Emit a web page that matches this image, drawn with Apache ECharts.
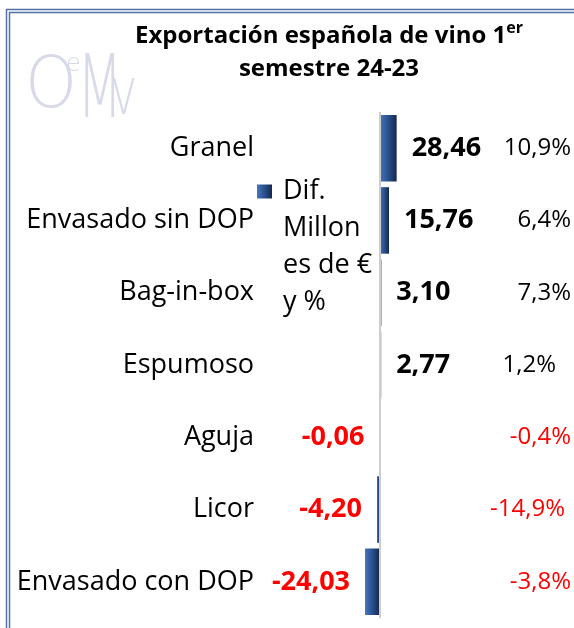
<!DOCTYPE html>
<html>
<head>
<meta charset="utf-8">
<script src="https://cdn.jsdelivr.net/npm/echarts@6/dist/echarts.min.js"></script>
<style>
    html, body { margin: 0; padding: 0; background: #fff; }
    #chart { width: 574px; height: 628px; }
</style>
</head>
<body>
<div id="chart"></div>
<script>
const categories = ['Granel', 'Envasado sin DOP', 'Bag-in-box', 'Espumoso', 'Aguja', 'Licor', 'Envasado con DOP']
const difMillones = [28.46, 15.76, 3.10, 2.77, -0.06, -4.20, -24.03]
const difPct = [10.9, 6.4, 7.3, 1.2, -0.4, -14.9, -3.8]
const seriesName = 'Dif. Millones de € y %'
const legendLines = ['Dif.', 'Millon', 'es de €', 'y %']

const FONT = 'Open Sans'
const RED = '#ff0000'
// en el original algunas etiquetas de % no quedan alineadas a la derecha
const pctNudge = [0, 0, 0, 15, 0, 6, 0]

function fmtNum(v, d) {
    return v.toFixed(d).replace('.', ',')
}

const chart = echarts.init(document.getElementById('chart'))

const barFill = new echarts.graphic.LinearGradient(0, 0, 1, 0, [
    { offset: 0, color: '#4677bb' },
    { offset: 0.45, color: '#2b5594' },
    { offset: 1, color: '#16284a' }
])

const borderColor = '#4f70a8'
const logoColor = '#d8d9e9'

let option = {
    backgroundColor: '#fff',
    animation: false,
    title: {
        text: '{t|Exportación española de vino 1}{s|er}\n{t|semestre 24-23}',
        left: 324,
        top: 15,
        textAlign: 'center',
        textStyle: {
            rich: {
                t: { fontSize: 24, fontWeight: 'bold', fontFamily: FONT, color: '#000', lineHeight: 33 },
                s: { fontSize: 16, fontWeight: 'bold', fontFamily: FONT, color: '#000', verticalAlign: 'top', lineHeight: 30 }
            }
        }
    },
    legend: {
        data: [seriesName],
        left: 252,
        top: 57,
        icon: 'rect',
        itemWidth: 15,
        itemHeight: 14,
        formatter: function() {
            return '\n\n\n' + legendLines.join('\n')
        },
        textStyle: {
            fontSize: 27,
            lineHeight: 37,
            color: '#000',
            fontFamily: FONT,
            padding: [0, 0, 0, 6]
        }
    },
    grid: {
        left: 265,
        right: 80,
        top: 112,
        bottom: 10
    },
    xAxis: {
        type: 'value',
        min: -190,
        max: 190,
        show: false
    },
    yAxis: [
        {
            type: 'category',
            data: categories,
            inverse: true,
            axisLine: { show: false },
            axisTick: { show: false },
            splitLine: { show: false },
            axisLabel: {
                fontSize: 27,
                color: '#000',
                fontFamily: FONT,
                margin: 11
            }
        },
        {
            type: 'category',
            data: categories,
            inverse: true,
            position: 'right',
            axisLine: { show: false },
            axisTick: { show: false },
            splitLine: { show: false },
            axisLabel: {
                align: 'right',
                margin: 77,
                formatter: function(value, idx) {
                    let p = difPct[idx]
                    let txt = (p < 0 ? '{n|' : '{p|') + fmtNum(p, 1) + '%}'
                    if (pctNudge[idx]) {
                        txt += '{gap' + pctNudge[idx] + '|}'
                    }
                    return txt
                },
                rich: {
                    p: { fontSize: 24, color: '#000', fontFamily: FONT },
                    n: { fontSize: 24, color: RED, fontFamily: FONT },
                    gap15: { width: 15 },
                    gap6: { width: 6 }
                }
            }
        }
    ],
    graphic: [
        { type: 'line', silent: true, shape: { x1: 6, y1: 9.5, x2: 574, y2: 9.5 }, style: { stroke: borderColor, lineWidth: 1.5 } },
        { type: 'line', silent: true, shape: { x1: 9, y1: 12.5, x2: 574, y2: 12.5 }, style: { stroke: borderColor, lineWidth: 1.5 } },
        { type: 'line', silent: true, shape: { x1: 6.5, y1: 9, x2: 6.5, y2: 628 }, style: { stroke: borderColor, lineWidth: 1.5 } },
        { type: 'line', silent: true, shape: { x1: 9.5, y1: 12, x2: 9.5, y2: 628 }, style: { stroke: borderColor, lineWidth: 1.5 } },
        // logo OeMv (marca de agua)
        { type: 'text', silent: true, x: 25, y: 52, scaleX: 0.92, style: { text: 'O', fontSize: 72, fontFamily: 'DejaVu Sans', fontWeight: 200, fill: logoColor } },
        { type: 'text', silent: true, x: 66, y: 53, style: { text: 'e', fontSize: 24, fontFamily: 'DejaVu Sans', fontWeight: 200, fill: logoColor } },
        { type: 'text', silent: true, x: 77, y: 50, scaleX: 0.6, style: { text: 'M', fontSize: 88, fontFamily: 'DejaVu Sans', fontWeight: 200, fill: logoColor } },
        { type: 'text', silent: true, x: 110, y: 64, scaleX: 0.7, style: { text: 'v', fontSize: 66, fontFamily: 'DejaVu Sans', fontWeight: 200, fill: logoColor } }
    ],
    series: [
        {
            name: seriesName,
            type: 'bar',
            barWidth: '92%',
            itemStyle: { color: barFill },
            data: difMillones.map(v => ({
                value: v,
                label: { position: v < 0 ? 'left' : 'right', color: v < 0 ? RED : '#000' }
            })),
            label: {
                show: true,
                distance: 15,
                fontSize: 27,
                fontWeight: 'bold',
                fontFamily: FONT,
                formatter: p => fmtNum(p.value, 2)
            },
            markLine: {
                silent: true,
                symbol: 'none',
                label: { show: false },
                lineStyle: { color: '#cdcdcd', width: 2, type: 'solid' },
                data: [{ xAxis: 0 }]
            }
        }
    ]
}

chart.setOption(option)
</script>
</body>
</html>
